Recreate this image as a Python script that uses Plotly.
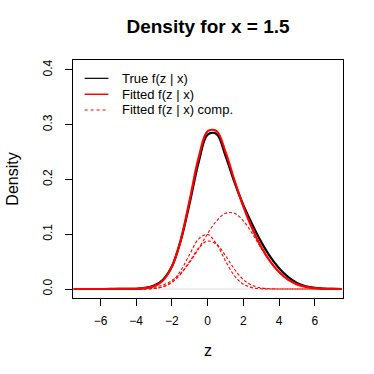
import plotly.graph_objects as go

# z grid and density values
z = [-7.5, -7, -6.5, -6, -5.5, -5, -4.5, -4, -3.5, -3, -2.5, -2, -1.5, -1, -0.5,
     0, 0.5, 1, 1.5, 2, 2.5, 3, 3.5, 4, 4.5, 5, 5.5, 6, 6.5, 7, 7.5]

true_f = [0, 0, 0, 0, 0.0001, 0.0001, 0.0002, 0.0005, 0.0020, 0.0062, 0.0170, 0.0415, 0.0890, 0.158, 0.232,
          0.282, 0.283, 0.243, 0.195, 0.153, 0.118, 0.086, 0.059, 0.038, 0.022, 0.011, 0.0050, 0.0020, 0.0007, 0.0002, 0]

fitted_f = [0, 0, 0, 0, 0, 0.0001, 0.0002, 0.0005, 0.0017, 0.0053, 0.0157, 0.0409, 0.0904, 0.1634, 0.2402,
            0.2881, 0.2882, 0.2503, 0.1986, 0.1503, 0.1100, 0.0768, 0.0505, 0.0310, 0.0170, 0.0085, 0.0040, 0.0016, 0.0005, 0.0001, 0]

comp_1 = [0, 0, 0, 0, 0, 0, 0, 0, 0.0002, 0.0010, 0.0041, 0.0135, 0.0338, 0.0638, 0.0915,
          0.0994, 0.0819, 0.0512, 0.0242, 0.0087, 0.0024, 0.0005, 0.0001, 0, 0, 0, 0, 0, 0, 0, 0]

comp_2 = [0, 0, 0, 0, 0, 0, 0, 0, 0.0003, 0.0011, 0.0041, 0.0119, 0.0276, 0.0508, 0.0747,
          0.0876, 0.0818, 0.0609, 0.0362, 0.0171, 0.0065, 0.0019, 0.0005, 0.0001, 0, 0, 0, 0, 0, 0, 0]

comp_3 = [0, 0, 0, 0, 0, 0.0001, 0.0002, 0.0005, 0.0013, 0.0033, 0.0075, 0.0155, 0.0290, 0.0488, 0.0740,
          0.1011, 0.1245, 0.1382, 0.1382, 0.1245, 0.1011, 0.0744, 0.0499, 0.0309, 0.0170, 0.0085, 0.0040, 0.0016, 0.0005, 0.0001, 0]

x_ticks = [-6, -4, -2, 0, 2, 4, 6]
y_ticks = [0.0, 0.1, 0.2, 0.3, 0.4]

legend_labels = ["True f(z | x)", "Fitted f(z | x)", "Fitted f(z | x) comp."]

FONT = "Liberation Sans, Arial, sans-serif"
RED = "#ff0000"

fig = go.Figure()

# gray zero line (abline h=0)
fig.add_hline(y=0, line_color="#dddddd", line_width=1, layer="below")

fig.add_trace(go.Scatter(x=z, y=true_f, mode="lines", name=legend_labels[0],
                         line=dict(color="black", width=2.2, shape="spline")))
fig.add_trace(go.Scatter(x=z, y=fitted_f, mode="lines", name=legend_labels[1],
                         line=dict(color=RED, width=2.2, shape="spline")))
for comp in [comp_1, comp_2, comp_3]:
    fig.add_trace(go.Scatter(x=z, y=comp, mode="lines", name=legend_labels[2],
                             line=dict(color=RED, width=1.1, dash="3px,2px", shape="spline")))

# R-style legend (bty = "n"), drawn by hand for tight row spacing
legend_styles = [dict(color="black", width=1.2),
                 dict(color=RED, width=1.5),
                 dict(color=RED, width=1.1, dash="3px,3px")]
row_y = [0.923, 0.856, 0.790]
for label, style, ry in zip(legend_labels, legend_styles, row_y):
    fig.add_shape(type="line", xref="paper", yref="paper", x0=0.043, x1=0.131, y0=ry, y1=ry,
                  line=style)
    fig.add_annotation(text=label, xref="paper", yref="paper", x=0.173, y=ry,
                       xanchor="left", yanchor="middle", showarrow=False,
                       font=dict(size=13, color="black"))

fig.update_layout(
    width=374, height=374,
    margin=dict(l=61, r=31, t=60, b=76),
    paper_bgcolor="white", plot_bgcolor="white",
    font=dict(family=FONT, color="black", size=12),
    title=dict(text="<b>Density for x = 1.5</b>", xref="paper", x=0.5, xanchor="center",
               yref="container", y=0.93, yanchor="middle", font=dict(size=19)),
    showlegend=False,
)

fig.update_xaxes(range=[-7.54, 7.58], tickvals=x_ticks, ticks="outside", ticklen=7,
                 ticklabelstandoff=5,
                 showgrid=False, zeroline=False, showline=True, mirror=True,
                 linecolor="black", linewidth=1, tickcolor="black",
                 title=dict(text="z", font=dict(size=16), standoff=17))
fig.update_yaxes(range=[-0.0164, 0.418], tickvals=y_ticks, tickformat=".1f", ticks="outside",
                 ticklen=7, tickangle=-90, ticklabelstandoff=8,
                 showgrid=False, zeroline=False, showline=True,
                 mirror=True, linecolor="black", linewidth=1, tickcolor="black",
                 title=dict(text="Density", font=dict(size=16), standoff=18))

# the page's default 8px body margin would shift the whole figure
fig.write_html("out.html", config={"displayModeBar": False},
               post_script="document.body.style.margin = '0';")
